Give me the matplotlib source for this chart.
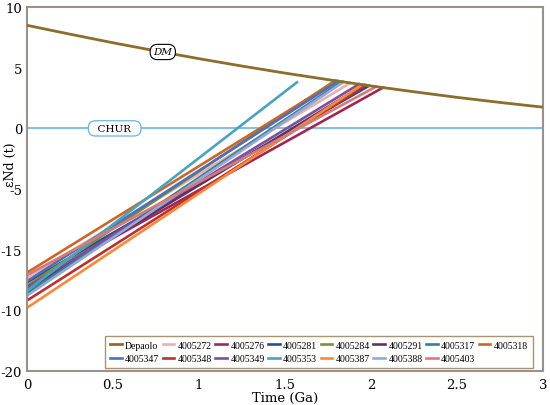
import numpy as np
import matplotlib
matplotlib.use('Agg')
import matplotlib.pyplot as plt

plt.rcParams['font.family'] = ['DejaVu Serif']

# Depaolo depleted mantle curve
dm_t = [0, 0.25, 0.5, 0.75, 1.0, 1.25, 1.5, 1.75, 2.0, 2.25, 2.5, 2.75, 3.0]
dm_eps = [8.5, 7.77, 7.06, 6.39, 5.75, 5.14, 4.56, 4.02, 3.5, 3.02, 2.56, 2.14, 1.75]

# sample evolution lines: eNd at t=0 and at the point where they meet DM
samples = ['4005272', '4005276', '4005281', '4005284', '4005291', '4005317', '4005318',
           '4005347', '4005348', '4005349', '4005353', '4005387', '4005388', '4005403']
eps_now = [-12.3, -13.0, -12.7, -13.0, -13.3, -13.6, -11.9,
           -12.6, -14.2, -13.1, -13.4, -14.8, -13.8, -12.1]
t_end = [1.88, 2.07, 1.99, 1.79, 1.96, 1.83, 1.80,
         1.81, 1.97, 1.93, 1.57, 1.95, 1.84, 2.03]
eps_end = [3.74, 3.36, 3.52, 3.93, 3.58, 3.85, 3.91,
           3.89, 3.56, 3.64, 3.80, 3.60, 3.83, 3.44]
colors = ['#e8b2b0', '#a3264f', '#2c4d8a', '#77933c', '#5b3464', '#3b7f8f', '#cc6628',
          '#4f6fb8', '#b83232', '#7d4f9c', '#4aa3bd', '#f68a3c', '#96a8d8', '#d77a7a']

fig = plt.figure(figsize=(5.5, 4.06), dpi=100)
ax = fig.add_axes([0.049, 0.084, 0.938, 0.896])

ax.axhline(0, color='#6ab4e0', lw=1.2, zorder=1)
ax.plot(dm_t, dm_eps, color='#8c6d2c', lw=2, label='Depaolo', zorder=3)
for name, e0, t1, e1, c in zip(samples, eps_now, t_end, eps_end, colors):
    ax.plot([0, t1], [e0, e1], color=c, lw=1.9, label=name, zorder=2)

ax.text(0.79, 6.3, 'DM', fontsize=7.5, style='italic', ha='center', va='center', zorder=5,
        bbox=dict(boxstyle='round,pad=0.3,rounding_size=0.7', fc='white', ec='black', lw=0.8))
ax.text(0.51, 0, '  CHUR  ', fontsize=7.5, ha='center', va='center', zorder=5,
        bbox=dict(boxstyle='round,pad=0.3,rounding_size=0.7', fc='white', ec='#6ab4e0', lw=0.9))

ax.set_xlim(0, 3)
ax.set_ylim(-20, 10)
ax.set_xticks([0, 0.5, 1, 1.5, 2, 2.5, 3])
ax.set_xticklabels(['0', '0.5', '1', '1.5', '2', '2.5', '3'])
ax.set_yticks([10, 5, 0, -5, -10, -15, -20])
ax.set_yticklabels(['10', '5', '0', '-5', '-15', '-10', '-20'])
ax.tick_params(length=0, labelsize=9.5)
ax.tick_params(axis='x', pad=5)
ax.set_xlabel('Time (Ga)', fontsize=9.5)
ax.xaxis.set_label_coords(0.5, -0.056)
ax.set_ylabel('εNd (t)', fontsize=9)
ax.yaxis.set_label_coords(-0.02, 0.57)

for s in ax.spines.values():
    s.set_color('#9a918a')
    s.set_linewidth(1.5)

# legend is filled row by row in the reference
h, l = ax.get_legend_handles_labels()
order = [0, 8, 1, 9, 2, 10, 3, 11, 4, 12, 5, 13, 6, 14, 7]
leg = ax.legend([h[i] for i in order], [l[i] for i in order], ncol=8,
                loc='lower right', bbox_to_anchor=(0.99, -0.005),
                prop={'family': 'Liberation Serif', 'size': 7},
                handlelength=1.2, handletextpad=0.35, columnspacing=0.35,
                borderpad=0.5, labelspacing=0.45, fancybox=False, framealpha=1)
leg.get_frame().set_edgecolor('#a89470')
leg.get_frame().set_linewidth(1.0)

plt.savefig('out.png', dpi=100)
